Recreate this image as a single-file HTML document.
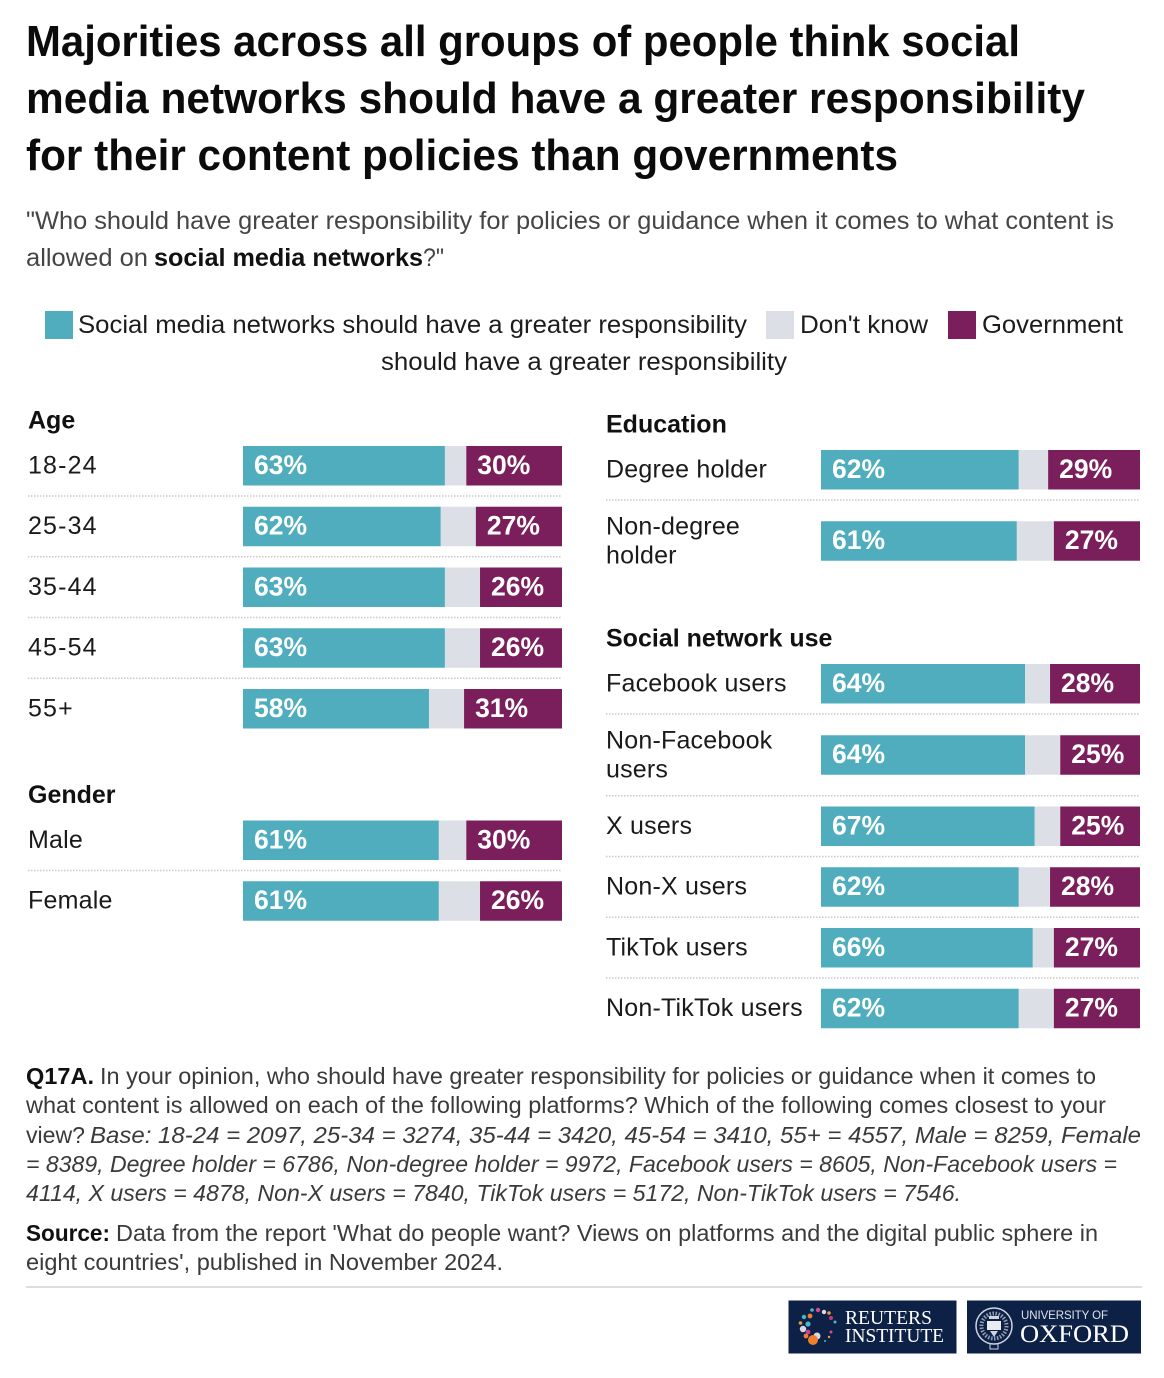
<!DOCTYPE html>
<html lang="en">
<head>
<meta charset="utf-8">
<title>Majorities think social media networks should have greater responsibility</title>
<style>
html,body{margin:0;padding:0;background:#fff;width:1164px;height:1378px;overflow:hidden}
svg{display:block}
text{font-family:"Liberation Sans",sans-serif}
.title{font-size:44px;font-weight:700;fill:#0b0b0b}
.sub{font-size:25px;fill:#454545}
.leg{font-size:25px;fill:#1c1c1c}
.foot{font-size:23.5px;fill:#3a3a3a}
.b{font-weight:700;fill:#111}
.i{font-style:italic}
.head{font-size:25px;font-weight:700;fill:#111}
.lab{font-size:25px;fill:#1a1a1a;letter-spacing:.2px}
.lab.num{letter-spacing:1.15px}
.val{font-size:26.5px;font-weight:700;fill:#fff}
</style>
</head>
<body>
<svg id="chart" xmlns="http://www.w3.org/2000/svg" width="1164" height="1378" viewBox="0 0 1164 1378">
  <rect x="0" y="0" width="1164" height="1378" fill="#fff"/>
  <g>
    <text class="title" x="26" y="56" textLength="994" lengthAdjust="spacingAndGlyphs">Majorities across all groups of people think social</text>
    <text class="title" x="26" y="113" textLength="1059" lengthAdjust="spacingAndGlyphs">media networks should have a greater responsibility</text>
    <text class="title" x="26" y="170" textLength="872" lengthAdjust="spacingAndGlyphs">for their content policies than governments</text>
  </g>
  <g>
    <text class="sub" x="26" y="229" textLength="1088" lengthAdjust="spacingAndGlyphs">"Who should have greater responsibility for policies or guidance when it comes to what content is</text>
    <text class="sub" x="26" y="266" textLength="122" lengthAdjust="spacingAndGlyphs">allowed on</text>
    <text class="sub b" x="154" y="266" textLength="269" lengthAdjust="spacingAndGlyphs">social media networks</text>
    <text class="sub" x="423" y="266" textLength="21" lengthAdjust="spacingAndGlyphs">?"</text>
  </g>
  <g>
    <g>
      <rect x="45" y="311" width="28" height="28" fill="#4fadbe"/>
      <text class="leg" x="78" y="333" textLength="669" lengthAdjust="spacingAndGlyphs">Social media networks should have a greater responsibility</text>
    </g>
    <g>
      <rect x="766" y="311" width="28" height="28" fill="#dcdfe6"/>
      <text class="leg" x="800" y="333" textLength="128" lengthAdjust="spacingAndGlyphs">Don't know</text>
    </g>
    <g>
      <rect x="948" y="311" width="28" height="28" fill="#7a1f5c"/>
      <text class="leg" x="982" y="333" textLength="141" lengthAdjust="spacingAndGlyphs">Government</text>
      <text class="leg" x="381" y="370" textLength="406" lengthAdjust="spacingAndGlyphs">should have a greater responsibility</text>
    </g>
  </g>
  <g id="groups"></g>
  <g>
    <text class="foot b" x="26" y="1084" textLength="68" lengthAdjust="spacingAndGlyphs">Q17A.</text>
    <text class="foot" x="100" y="1084" textLength="996" lengthAdjust="spacingAndGlyphs">In your opinion, who should have greater responsibility for policies or guidance when it comes to</text>
    <text class="foot" x="26" y="1113" textLength="1080" lengthAdjust="spacingAndGlyphs">what content is allowed on each of the following platforms? Which of the following comes closest to your</text>
    <text class="foot" x="26" y="1143" textLength="59" lengthAdjust="spacingAndGlyphs">view?</text>
    <text class="foot i" x="90" y="1143" textLength="1051" lengthAdjust="spacingAndGlyphs">Base: 18-24 = 2097, 25-34 = 3274, 35-44 = 3420, 45-54 = 3410, 55+ = 4557, Male = 8259, Female</text>
    <text class="foot i" x="26" y="1172" textLength="1091" lengthAdjust="spacingAndGlyphs">= 8389, Degree holder = 6786, Non-degree holder = 9972, Facebook users = 8605, Non-Facebook users =</text>
    <text class="foot i" x="26" y="1201" textLength="935" lengthAdjust="spacingAndGlyphs">4114, X users = 4878, Non-X users = 7840, TikTok users = 5172, Non-TikTok users = 7546.</text>
  </g>
  <g>
    <text class="foot b" x="26" y="1241" textLength="84" lengthAdjust="spacingAndGlyphs">Source:</text>
    <text class="foot" x="116" y="1241" textLength="982" lengthAdjust="spacingAndGlyphs">Data from the report 'What do people want? Views on platforms and the digital public sphere in</text>
    <text class="foot" x="26" y="1270" textLength="477" lengthAdjust="spacingAndGlyphs">eight countries', published in November 2024.</text>
  </g>
  <rect x="26" y="1286" width="1116" height="2" fill="#dddde1"/>
  <g>
    <rect x="788.5" y="1300.5" width="168" height="53" fill="#0d2147"/>
    <g id="ring">
      <circle cx="817" cy="1336" r="3.5" fill="#d9d9e6"/><circle cx="813" cy="1340" r="5" fill="#ef7f2d"/>
      <circle cx="806" cy="1336" r="2.4" fill="#ef7f2d"/>
      <circle cx="803" cy="1329" r="3.2" fill="#d9d9e6"/><circle cx="808" cy="1332" r="2.4" fill="#cf3f8c"/>
      <circle cx="800.5" cy="1323" r="1.8" fill="#ef9a3d"/><circle cx="808" cy="1324" r="2.6" fill="#4fb5c2"/>
      <circle cx="804" cy="1317" r="2.2" fill="#4fb5c2"/><circle cx="810" cy="1316" r="2.4" fill="#ef7f2d"/>
      <circle cx="812" cy="1310" r="1.8" fill="#4fb5c2"/><circle cx="818" cy="1310" r="2.2" fill="#d64a8e"/>
      <circle cx="824" cy="1312" r="2.2" fill="#d9d9e6"/><circle cx="829" cy="1313" r="1.8" fill="#ef9a3d"/>
      <circle cx="831" cy="1318" r="2" fill="#c43a78"/><circle cx="835" cy="1322" r="1.5" fill="#4fb5c2"/>
      <circle cx="831" cy="1332" r="1.5" fill="#d64a8e"/><circle cx="829" cy="1337" r="1.2" fill="#ef9a3d"/>
      <circle cx="825" cy="1341" r="1" fill="#4fb5c2"/>
    </g>
    <text x="845" y="1324" font-size="19.5" textLength="87" lengthAdjust="spacingAndGlyphs" fill="#fff" style="font-family:'Liberation Serif',serif">REUTERS</text>
    <text x="845" y="1342" font-size="19.5" textLength="99" lengthAdjust="spacingAndGlyphs" fill="#fff" style="font-family:'Liberation Serif',serif">INSTITUTE</text>
  </g>
  <g>
    <rect x="967" y="1300.5" width="174" height="53" fill="#0d2147"/>
    <g>
      <circle cx="994" cy="1326" r="18" fill="none" stroke="#cfd4de" stroke-width="1.5"/>
      <circle cx="994" cy="1326" r="12.5" fill="none" stroke="#cfd4de" stroke-width="4" stroke-dasharray="1.5 1.5" opacity=".7"/>
      <rect x="987" y="1321" width="14" height="9" fill="#e8ebf0"/>
      <rect x="989" y="1316" width="10" height="3" fill="#cfd4de"/>
      <path d="M990 1331 L994 1337 L998 1331 Z" fill="#cfd4de"/>
      <rect x="990" y="1344" width="8" height="5" fill="none" stroke="#cfd4de" stroke-width="1"/>
    </g>
    <text x="1021" y="1319" font-size="11.5" textLength="87" lengthAdjust="spacing" fill="#dfe3ea">UNIVERSITY OF</text>
    <text x="1020" y="1342" font-size="25.5" textLength="109" lengthAdjust="spacingAndGlyphs" fill="#fff" style="font-family:'Liberation Serif',serif">OXFORD</text>
  </g>
</svg>
<script>
const ageCategories = ['18-24', '25-34', '35-44', '45-54', '55+'];
const ageSocial = [63.3, 62, 63.3, 63.3, 58.3];
const ageDontKnow = [6.7, 11, 11, 11, 11];
const ageGovernment = [30, 27, 25.7, 25.7, 30.7];

const genderCategories = ['Male', 'Female'];
const genderSocial = [61.4, 61.4];
const genderDontKnow = [8.6, 12.9];
const genderGovernment = [30, 25.7];

const educationCategories = ['Degree holder', 'Non-degree holder'];
const educationSocial = [62, 61.4];
const educationDontKnow = [9.2, 11.6];
const educationGovernment = [28.8, 27];

const networkCategories = ['Facebook users', 'Non-Facebook users', 'X users', 'Non-X users', 'TikTok users', 'Non-TikTok users'];
const networkSocial = [64, 64, 67, 62, 66.4, 62];
const networkDontKnow = [7.8, 11, 8, 9.8, 6.6, 11];
const networkGovernment = [28.2, 25, 25, 28.2, 27, 27];

const NS = 'http://www.w3.org/2000/svg';
const root = document.getElementById('groups');
const BAR_WIDTH = 319, BAR_HEIGHT = 39.5, ROW_STEP = 60.75, WRAP_EXTRA = 10.5;

function xScale(value) {
  return value / 100 * BAR_WIDTH;
}
function make(tag, parent, attrs) {
  const el = document.createElementNS(NS, tag);
  for (const k in attrs) el.setAttribute(k, attrs[k]);
  parent.appendChild(el);
  return el;
}
function slug(s) {
  return s.toLowerCase().replace(/[^a-z0-9]+/g, '-').replace(/^-|-$/g, '');
}
function wrapLabel(s) {
  if (s.length <= 16) return [s];
  const i = s.lastIndexOf(' ');
  return [s.slice(0, i), s.slice(i + 1)];
}
function drawGroup(title, categories, social, dontKnow, government, labelX, barX, top) {
  const g = make('g', root, {});
  
  
  const head = make('text', g, {class: 'head', x: labelX, y: top - 17.5});
  
  
  head.textContent = title;
  let y = top;
  categories.forEach(function (cat, i) {
    const lines = wrapLabel(cat);
    const extra = lines.length > 1 ? WRAP_EXTRA : 0;
    y += i > 0 ? extra : 0;
    const mid = y + BAR_HEIGHT / 2;
    const row = make('g', g, {});
    
    
    const labelClass = /^[0-9]/.test(cat) ? 'lab num' : 'lab';
    const label = make('text', row, {class: labelClass, x: labelX, y: lines.length > 1 ? mid - 6.5 : mid + 7.5});
    
    
    label.textContent = lines[0];
    if (lines.length > 1) {
      const second = make('text', row, {class: 'lab', x: labelX, y: mid + 22.5});
      
      
      second.textContent = lines[1];
    }
    const sw = xScale(social[i]), dw = xScale(dontKnow[i]), gw = xScale(government[i]);
    const b1 = make('rect', row, {x: barX, y: y, width: sw, height: BAR_HEIGHT, fill: '#4fadbe'});
    
    
    const b2 = make('rect', row, {x: barX + sw, y: y, width: dw, height: BAR_HEIGHT, fill: '#dcdfe6'});
    
    
    const b3 = make('rect', row, {x: barX + sw + dw, y: y, width: gw, height: BAR_HEIGHT, fill: '#7a1f5c'});
    
    
    const v1 = make('text', row, {class: 'val', x: barX + 11, y: mid + 8});
    
    
    v1.textContent = Math.round(social[i]) + '%';
    const v3 = make('text', row, {class: 'val', x: barX + sw + dw + 11, y: mid + 8});
    
    
    v3.textContent = Math.round(government[i]) + '%';
    if (i < categories.length - 1) {
      const sepY = y + BAR_HEIGHT + 10.5 + extra;
      const sep = make('line', row, {x1: labelX, x2: barX + BAR_WIDTH, y1: sepY, y2: sepY, stroke: '#c9c9cc', 'stroke-width': 1.5, 'stroke-dasharray': '1.5 1.5'});
      
      
    }
    y += ROW_STEP + extra;
  });
}
drawGroup('Age', ageCategories, ageSocial, ageDontKnow, ageGovernment, 28, 243, 446);
drawGroup('Gender', genderCategories, genderSocial, genderDontKnow, genderGovernment, 28, 243, 820.5);
drawGroup('Education', educationCategories, educationSocial, educationDontKnow, educationGovernment, 606, 821, 450);
drawGroup('Social network use', networkCategories, networkSocial, networkDontKnow, networkGovernment, 606, 821, 664);
</script>
</body>
</html>
